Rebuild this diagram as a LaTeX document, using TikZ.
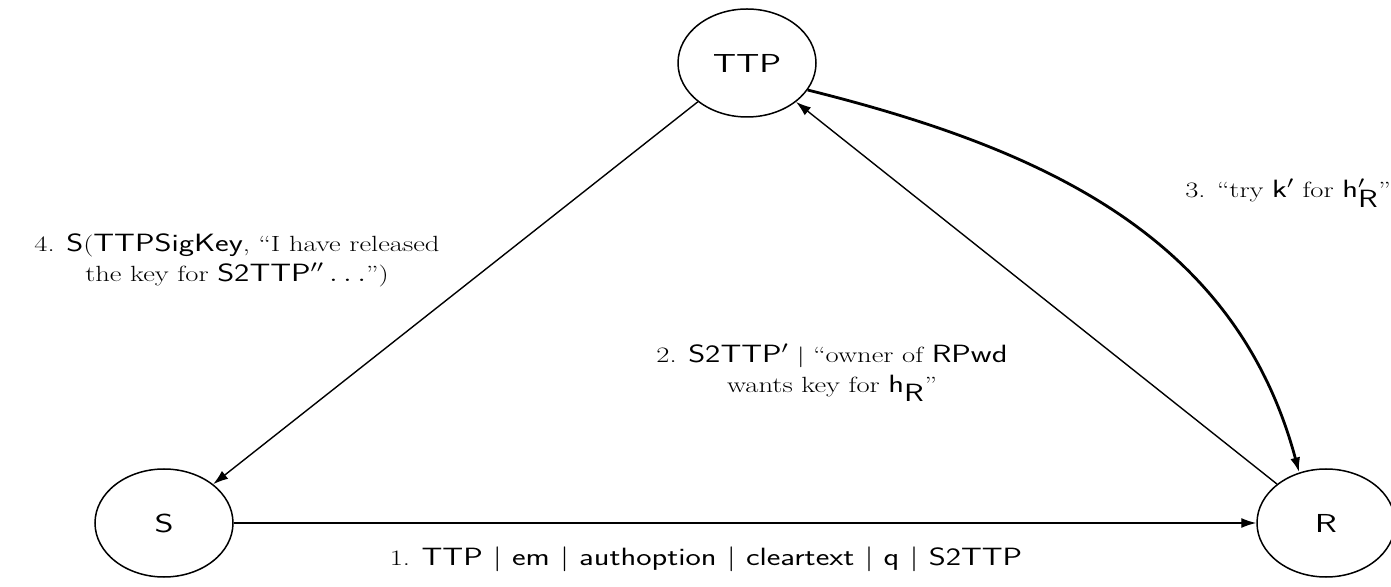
\documentclass[tikz,border=0pt]{standalone}
\usetikzlibrary{arrows.meta,shapes.geometric}
\newcommand{\ssf}[1]{{\fontsize{25}{30}\selectfont\sffamily #1}}
\newcommand{\lines}[1]{\scalebox{1.3}[1]{\fontsize{22}{30}\selectfont\begin{tabular}{@{}c@{}}#1\end{tabular}}}
\begin{document}
\begin{tikzpicture}[x=1pt,y=1pt,
  party/.style={ellipse,draw,line width=1.5pt,minimum width=138pt,minimum height=108pt,inner sep=0pt,font=\fontsize{26}{30}\selectfont\sffamily},
  msg/.style={-{Latex[length=15pt,width=10pt]},line width=1.4pt},
  lbl/.style={align=center,inner sep=0pt}]
\useasboundingbox (0,0) rectangle (1391,586);
\node[party] (TTP) at (747,523) {\scalebox{1.4}[1]{TTP}};
\node[party] (S) at (164,63) {\scalebox{1.4}[1]{S}};
\node[party] (R) at (1326,63) {\scalebox{1.4}[1]{R}};
\draw[msg] (S) -- (R);
\draw[msg] (R) -- (TTP);
\draw[msg] (TTP) -- (S);
\draw[msg,line width=2.8pt] (TTP.-24) to[out=-14,in=105] (R.118);
\node[lbl] (l1) at (706,26) {\lines{1. \ssf{TTP $|$ em $|$ authoption $|$ cleartext $|$ q $|$ S2TTP}}};
\node[lbl] (l2) at (832,214) {\lines{2. \ssf{S2TTP$'$} $|$ ``owner of \ssf{RPwd}\\ wants key for \ssf{h$_{\textsf{R}}$}''}};
\node[lbl] (l3) at (1288,394) {\lines{3. ``try \ssf{k$'$} for \ssf{h$'_{\textsf{R}}$}''}};
\node[lbl] (l4) at (237,325) {\lines{4. \ssf{S}(\ssf{TTPSigKey}, ``I have released\\ the key for \ssf{S2TTP$''\ldots$}'')}};
\end{tikzpicture}
\end{document}
